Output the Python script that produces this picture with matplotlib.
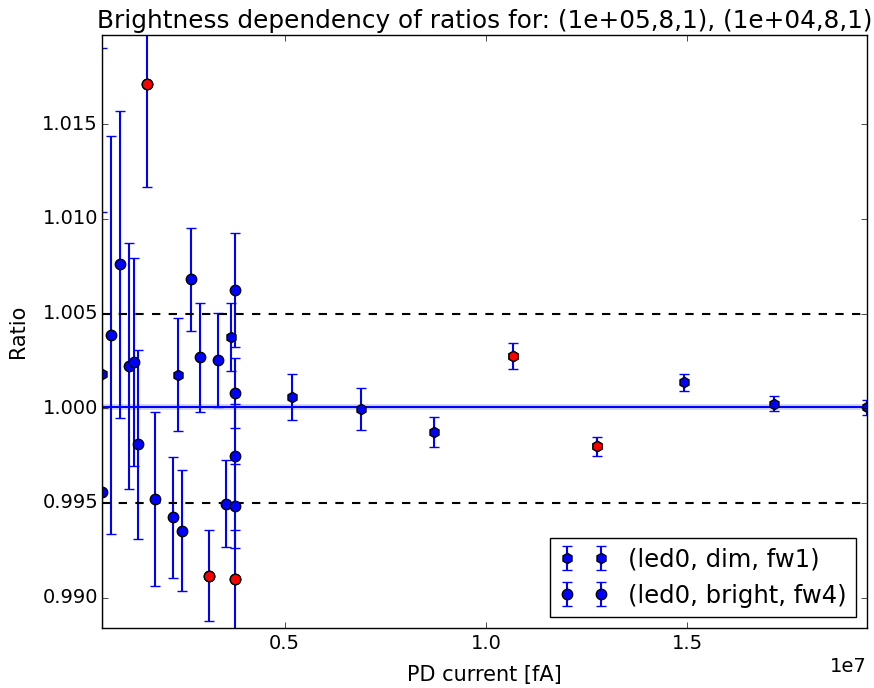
import matplotlib
matplotlib.use('Agg')
import matplotlib.pyplot as plt
import numpy as np

plt.style.use('classic')

# dim series, fw1 (hexagons), PD current in units of 1e7 fA
dim_x = [0.047, 0.2341, 0.3674, 0.5184, 0.690, 0.8716, 1.068, 1.275, 1.491, 1.715, 1.946]
dim_ratio = [1.0018, 1.00178, 1.00377, 1.0006, 0.99996, 0.99875, 1.00276, 0.99799,
             1.00136, 1.00023, 1.00005]
dim_err = [0.0172, 0.0030, 0.0018, 0.0012, 0.0011, 0.0008, 0.0007, 0.0005,
           0.00044, 0.0004, 0.0004]
dim_outlier = [False, False, False, False, False, False, True, True, False, False, False]

# bright series, fw4 (circles)
bright_x = [0.047, 0.0699, 0.0913, 0.1129, 0.1246, 0.1346, 0.157, 0.1784, 0.2231, 0.2455,
            0.2672, 0.2896, 0.3112, 0.3336, 0.3555, 0.3766, 0.3766, 0.3766, 0.3766, 0.3766]
bright_ratio = [0.99558, 1.00386, 1.0076, 1.00224, 1.00243, 0.99810, 1.01711, 0.99521,
                0.99424, 0.99354, 1.0068, 1.00268, 0.99116, 1.00255, 0.99496, 1.00625,
                1.00081, 0.99746, 0.99484, 0.99096]
bright_err = [0.0148, 0.0105, 0.0081, 0.0065, 0.0055, 0.0050, 0.0054, 0.0046, 0.0032,
              0.0032, 0.0027, 0.0029, 0.0024, 0.0025, 0.0023, 0.0030, 0.00185, 0.00275,
              0.0022, 0.0026]
bright_outlier = [False, False, False, False, False, False, True, False, False, False,
                  False, False, True, False, False, False, False, False, False, True]

mean_ratio = 1.00005
mean_band = 0.00015
limit_lo, limit_hi = 0.995, 1.005

dim_x = np.array(dim_x) * 1e7
bright_x = np.array(bright_x) * 1e7

plt.rcParams['xtick.labelsize'] = 14
plt.rcParams['ytick.labelsize'] = 14
plt.rcParams['ytick.major.pad'] = 3

fig = plt.figure(figsize=(8.74, 6.88), dpi=100)
ax = fig.add_axes([0.117, 0.0868, 0.875, 0.8623])

style = dict(color='b', mec='k', mew=1, ms=7.5, capsize=3.5, elinewidth=1.5, capthick=1)
ax.errorbar(dim_x, dim_ratio, yerr=dim_err, fmt='h', label='(led0, dim, fw1)', **style)
ax.errorbar(bright_x, bright_ratio, yerr=bright_err, fmt='o', label='(led0, bright, fw4)', **style)

# outliers drawn in red on top
dm = np.array(dim_outlier)
bm = np.array(bright_outlier)
ax.plot(dim_x[dm], np.array(dim_ratio)[dm], 'h', mfc='r', mec='k', mew=1, ms=7.5, zorder=5)
ax.plot(bright_x[bm], np.array(bright_ratio)[bm], 'o', mfc='r', mec='k', mew=1, ms=7.5, zorder=5)

ax.axhline(mean_ratio, color='b', lw=1.5)
ax.axhspan(mean_ratio - mean_band, mean_ratio + mean_band, color='#aab4dc', alpha=0.5, lw=0)
ax.axhline(limit_lo, color='k', ls='--', lw=1.5)
ax.axhline(limit_hi, color='k', ls='--', lw=1.5)

ax.set_xlim(min(dim_x.min(), bright_x.min()), max(dim_x.max(), bright_x.max()))
ax.set_ylim(0.98838, 1.01971)
ax.set_xticks([0.5e7, 1.0e7, 1.5e7])
ax.set_yticks([0.990, 0.995, 1.000, 1.005, 1.010, 1.015])
ax.yaxis.set_major_formatter(matplotlib.ticker.FormatStrFormatter('%.3f'))
ax.xaxis.get_offset_text().set_fontsize(14)

ax.set_xlabel('PD current [fA]', fontsize=15, labelpad=9)
ax.set_ylabel('Ratio', fontsize=15, labelpad=10)
ax.set_title('Brightness dependency of ratios for: (1e+05,8,1), (1e+04,8,1)', fontsize=17.8)
ax.legend(loc='lower right', numpoints=2, fontsize=17.5, borderaxespad=0.45)

fig.savefig('out.png', dpi=100)
